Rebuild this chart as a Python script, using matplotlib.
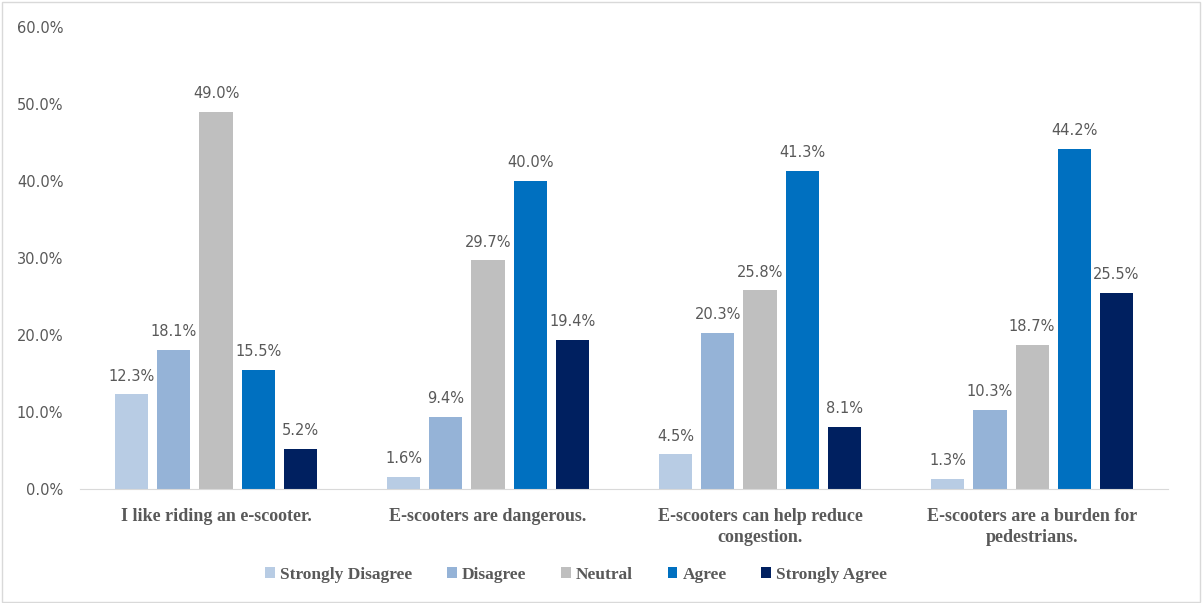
import matplotlib.pyplot as plt
import numpy as np
from matplotlib.patches import Rectangle

categories = ["I like riding an e-scooter.", "E-scooters are dangerous.",
              "E-scooters can help reduce\ncongestion.", "E-scooters are a burden for\npedestrians."]
series = ["Strongly Disagree", "Disagree", "Neutral", "Agree", "Strongly Agree"]
values = [
    [12.3, 1.6, 4.5, 1.3],
    [18.1, 9.4, 20.3, 10.3],
    [49.0, 29.7, 25.8, 18.7],
    [15.5, 40.0, 41.3, 44.2],
    [5.2, 19.4, 8.1, 25.5],
]
colors = ["#B8CCE4", "#95B3D7", "#BFBFBF", "#0070C0", "#002060"]
text_col = "#595959"
serif = ["Liberation Serif", "DejaVu Serif"]

fig = plt.figure(figsize=(12.03, 6.03), dpi=100)
ax = fig.add_axes([0.0665, 0.189, 0.9045, 0.766])
fig.patches.append(Rectangle((0.0015, 0.002), 0.996, 0.994, transform=fig.transFigure,
                             fill=False, edgecolor="#D9D9D9", linewidth=1))

x = np.arange(len(categories))
step = 0.155
width = 0.122
for i, (name, vals) in enumerate(zip(series, values)):
    pos = x + (i - 2) * step
    bars = ax.bar(pos, vals, width, color=colors[i], label=name)
    for b, v in zip(bars, vals):
        ax.text(b.get_x() + b.get_width() / 2, v + 1.4, f"{v:.1f}%", ha="center",
                va="bottom", fontsize=10.5, color=text_col)

ax.set_xlim(-0.5, 3.5)
ax.set_ylim(0, 60)
ax.set_yticks(np.arange(0, 61, 10))
ax.set_yticklabels([f"{t:.1f}%" for t in range(0, 61, 10)])
ax.tick_params(axis="y", length=0, labelsize=10.5, labelcolor=text_col, pad=12)
ax.set_xticks(x)
ax.set_xticklabels(categories, fontfamily=serif, fontweight="bold", fontsize=13, color=text_col,
                   linespacing=1.25)
ax.tick_params(axis="x", length=0, pad=14)
for s in ["top", "right", "left"]:
    ax.spines[s].set_visible(False)
ax.spines["bottom"].set_color("#D9D9D9")

leg = fig.legend(loc="center", bbox_to_anchor=(0.479, 0.047), ncol=5, frameon=False,
                 prop={"family": serif, "weight": "bold", "size": 12.5},
                 handlelength=0.55, handleheight=0.55, handletextpad=0.3, columnspacing=2.0)
for t in leg.get_texts():
    t.set_color(text_col)

fig.savefig("out.png", dpi=100)
